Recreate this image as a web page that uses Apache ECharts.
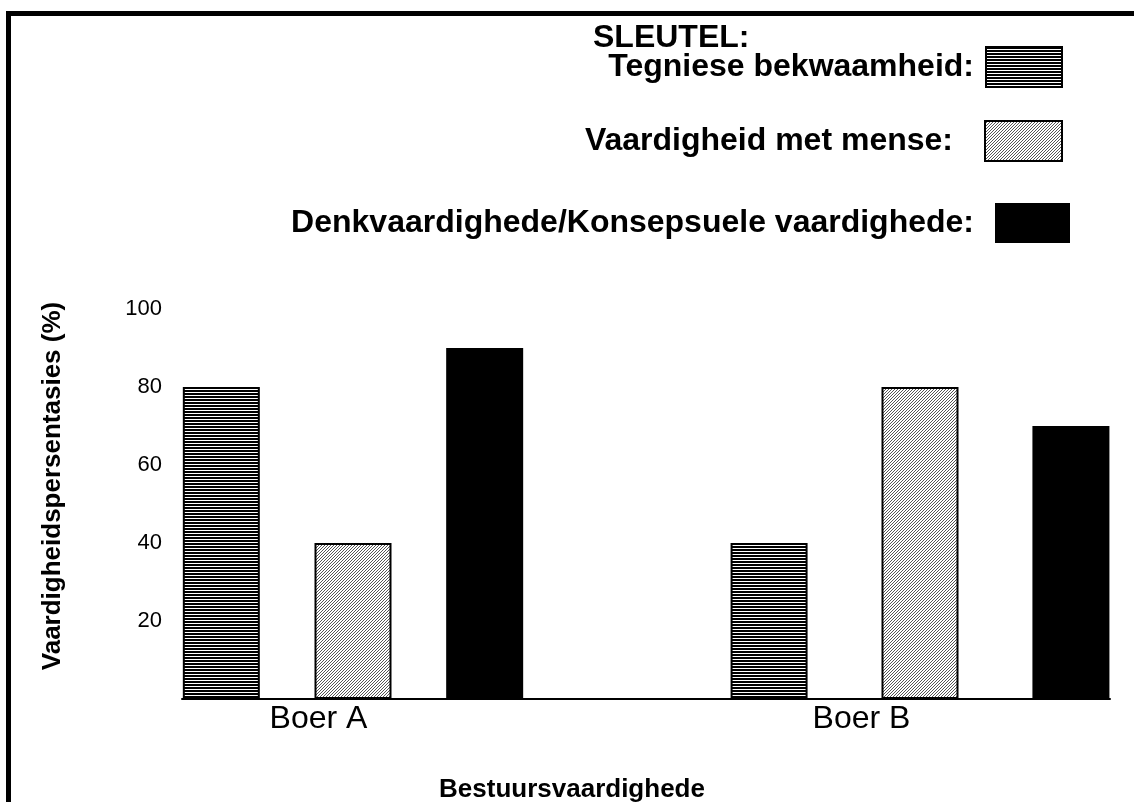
<!DOCTYPE html>
<html>
<head>
<meta charset="utf-8">
<script src="https://cdn.jsdelivr.net/npm/echarts@6/dist/echarts.min.js"></script>
<style>
  html, body { margin: 0; padding: 0; background: #fff; }
  #chart { width: 1134px; height: 802px; }
</style>
</head>
<body>
<div id="chart"></div>
<script>
// ------------------- D A T A ------------------- //
const farmers = ['Boer A', 'Boer B']
const skillNames = [
  'Tegniese bekwaamheid:',
  'Vaardigheid met mense:',
  'Denkvaardighede/Konsepsuele vaardighede:'
]
const tegnies = [80, 40]
const mense = [40, 80]
const denk = [90, 70]
const yTicks = [0, 20, 40, 60, 80, 100]

const font = 'Liberation Sans, Arial, sans-serif'

// ----------------- P A T T E R N S ----------------- //
const makeTile = (w, h, draw) => {
  const c = document.createElement('canvas')
  c.width = w
  c.height = h
  const ctx = c.getContext('2d')
  ctx.fillStyle = '#fff'
  ctx.fillRect(0, 0, w, h)
  draw(ctx)
  return c
}

const hLines = makeTile(4, 3, ctx => {
  ctx.fillStyle = '#000'
  ctx.fillRect(0, 0, 4, 2)
})
const diag = makeTile(3, 3, ctx => {
  ctx.fillStyle = '#555'
  for (let x = 0; x < 3; x++) {
    for (let y = 0; y < 3; y++) {
      if ((x + y) % 3 === 2) ctx.fillRect(x, y, 1, 1)
    }
  }
})

const skillValues = [tegnies, mense, denk]
const skillStyles = [
  { color: { image: hLines, repeat: 'repeat' }, borderColor: '#000', borderWidth: 2 },
  { color: { image: diag, repeat: 'repeat' }, borderColor: '#000', borderWidth: 2 },
  { color: '#000', borderWidth: 0 }
]
const groupGaps = ['71%', '96%']

// ----------------- S E R I E S ----------------- //
const series = []
farmers.forEach((f, i) => {
  skillNames.forEach((name, k) => {
    series.push({
      name,
      type: 'bar',
      xAxisIndex: i + 1,
      yAxisIndex: i + 1,
      barWidth: 77,
      barGap: groupGaps[i],
      itemStyle: skillStyles[k],
      data: [skillValues[k][i]]
    })
  })
})

// legend rows: [top, right, itemWidth, padRight, padBottom]
const legendRows = [
  [46, 71, 76, 7, 10],
  [120, 71, 77, 27, 14],
  [203, 64, 75, 16, 16]
]

const option = {
  animation: false,
  backgroundColor: '#fff',
  title: {
    text: 'SLEUTEL:',
    left: 593,
    top: 22,
    padding: 0,
    textStyle: { fontFamily: font, fontSize: 32, fontWeight: 'bold', color: '#000' }
  },
  legend: legendRows.map((r, k) => ({
    data: [skillNames[k]],
    top: r[0],
    right: r[1],
    align: 'right',
    orient: 'vertical',
    padding: 0,
    itemWidth: r[2],
    itemHeight: 40,
    selectedMode: false,
    icon: 'rect',
    itemStyle: k < 2 ? { borderColor: '#000', borderWidth: 2 } : { borderWidth: 0 },
    textStyle: {
      fontFamily: font,
      fontSize: 32,
      fontWeight: 'bold',
      color: '#000',
      padding: [0, r[3], r[4], 0]
    }
  })),
  grid: [
    { left: 182, right: 24, top: 309, bottom: 103 },
    { left: 182, right: 610, top: 309, bottom: 103 },
    { left: 730, right: 24, top: 309, bottom: 103 },
    { left: 47, right: 1, top: 309, bottom: 103 }
  ],
  xAxis: [
    {
      gridIndex: 0,
      type: 'category',
      data: farmers,
      axisLine: { lineStyle: { color: '#000', width: 2 } },
      axisTick: { show: false },
      axisLabel: { show: false }
    },
    { gridIndex: 1, type: 'category', data: [farmers[0]], show: false },
    { gridIndex: 2, type: 'category', data: [farmers[1]], show: false },
    {
      gridIndex: 3,
      type: 'category',
      data: farmers,
      axisLine: { show: false },
      axisTick: { show: false },
      axisLabel: { fontFamily: font, fontSize: 32, color: '#000', margin: 4 }
    }
  ],
  yAxis: [
    {
      gridIndex: 0,
      type: 'value',
      min: yTicks[0],
      max: yTicks[yTicks.length - 1],
      interval: yTicks[1] - yTicks[0],
      axisLine: { show: false },
      axisTick: { show: false },
      splitLine: { show: false },
      axisLabel: {
        fontFamily: font,
        fontSize: 22,
        color: '#000',
        margin: 20,
        formatter: v => (v === 0 ? '' : v)
      }
    },
    { gridIndex: 1, type: 'value', min: 0, max: 100, show: false },
    { gridIndex: 2, type: 'value', min: 0, max: 100, show: false },
    { gridIndex: 3, type: 'value', min: 0, max: 100, show: false }
  ],
  graphic: [
    // frame
    { type: 'rect', shape: { x: 6, y: 11, width: 1128, height: 5 }, style: { fill: '#000' } },
    { type: 'rect', shape: { x: 6, y: 11, width: 5, height: 791 }, style: { fill: '#000' } },
    {
      type: 'text',
      x: 53,
      y: 486,
      rotation: Math.PI / 2,
      style: {
        text: 'Vaardigheidspersentasies (%)',
        font: 'bold 26px ' + font,
        fill: '#000',
        textAlign: 'center',
        textVerticalAlign: 'middle'
      }
    },
    {
      type: 'text',
      x: 572,
      y: 790,
      style: {
        text: 'Bestuursvaardighede',
        font: 'bold 26px ' + font,
        fill: '#000',
        textAlign: 'center',
        textVerticalAlign: 'middle'
      }
    }
  ],
  series
}

const myChart = echarts.init(document.getElementById('chart'))
myChart.setOption(option)
</script>
</body>
</html>
